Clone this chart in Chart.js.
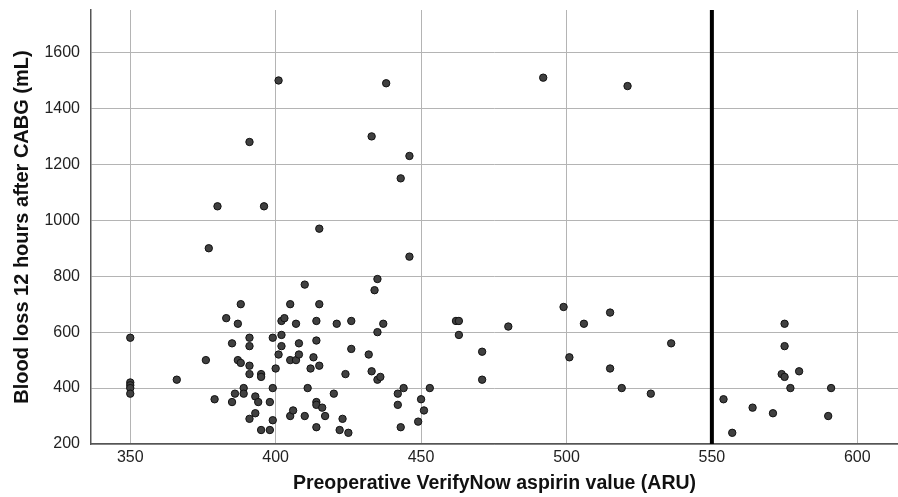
<!DOCTYPE html>
<html>
<head>
<meta charset="utf-8">
<script src="https://cdn.jsdelivr.net/npm/chart.js@4.4.0/dist/chart.umd.min.js"></script>
<style>
  html, body { margin: 0; padding: 0; background: #fff; }
  #wrap { width: 898px; height: 497px; }
</style>
</head>
<body>
<div id="wrap"><canvas id="myChart"></canvas></div>
<script>
// preoperative ARU (x) and 12h blood loss (y)
const aruValues = [
  350, 350, 350, 350, 350, 366, 376, 377, 379, 380,
  383, 385, 385, 386, 387, 387, 388, 388, 389, 389,
  391, 391, 391, 391, 391, 391, 393, 393, 394, 395,
  395, 395, 396, 398, 398, 399, 399, 399, 400, 401,
  401, 402, 402, 402, 403, 405, 405, 405, 406, 407,
  407, 408, 408, 410, 410, 411, 412, 413, 414, 414,
  414, 414, 414, 415, 415, 415, 416, 417, 420, 421,
  422, 423, 424, 425, 426, 426, 432, 433, 433, 434,
  435, 435, 435, 436, 437, 438, 442, 442, 443, 443,
  444, 446, 446, 449, 450, 451, 453, 462, 463, 463,
  471, 471, 480, 492, 499, 501, 506, 515, 515, 519,
  521, 529, 536, 554, 557, 564, 571, 575, 575, 574,
  575, 577, 580, 591, 590
];
const bloodLoss = [
  580, 420, 410, 400, 380, 430, 500, 900, 360, 1050,
  650, 560, 350, 380, 630, 500, 700, 490, 400, 380,
  1280, 580, 550, 480, 450, 290, 370, 310, 350, 450,
  440, 250, 1050, 350, 250, 580, 400, 285, 470, 1500,
  520, 640, 590, 550, 650, 700, 500, 300, 320, 630,
  500, 560, 520, 770, 300, 400, 470, 510, 640, 570,
  350, 340, 260, 970, 700, 480, 330, 300, 380, 630,
  250, 290, 450, 240, 640, 540, 520, 1300, 460, 750,
  790, 600, 430, 440, 630, 1490, 380, 340, 1150, 260,
  400, 1230, 870, 280, 360, 320, 400, 640, 640, 590,
  530, 430, 620, 1510, 690, 510, 630, 670, 470, 400,
  1480, 380, 560, 360, 240, 330, 310, 630, 550, 450,
  440, 400, 460, 400, 300
];
const xTicks = [350, 400, 450, 500, 550, 600];
const yTicks = [200, 400, 600, 800, 1000, 1200, 1400, 1600];
const cutoffAru = 550;
const xMin = 336.5, xMax = 614;
const yMin = 200, yMax = 1752;

const points = aruValues.map((v, i) => ({ x: v, y: bloodLoss[i] }));

const font = "'Liberation Sans', Arial, sans-serif";

const config = {
  type: "scatter",
  data: {
    datasets: [
      {
        type: "line",
        data: [{ x: cutoffAru, y: yMin }, { x: cutoffAru, y: yMax }],
        borderColor: "#000",
        borderWidth: 4,
        pointRadius: 0,
        order: 2,
      },
      {
        data: points,
        backgroundColor: "#404040",
        borderColor: "#111",
        borderWidth: 1,
        pointRadius: 3.7,
        order: 1,
      },
    ],
  },
  options: {
    responsive: true,
    maintainAspectRatio: false,
    animation: false,
    layout: { autoPadding: false, padding: { left: 0, right: 0, top: 10, bottom: 0 } },
    plugins: { legend: { display: false }, tooltip: { enabled: false } },
    scales: {
      x: {
        type: "linear",
        min: xMin,
        max: xMax,
        afterBuildTicks: (s) => { s.ticks = xTicks.map(v => ({ value: v })); },
        afterFit: (s) => {
          s.height = 53;
          s.paddingLeft = 0;
          s.paddingRight = 0;
        },
        grid: { color: "#b4b4b4", lineWidth: 1, drawTicks: false },
        border: { color: "#555", width: 1.5 },
        ticks: {
          color: "#222",
          font: { family: font, size: 16 },
          padding: 4,
          callback: (v) => String(v),
        },
        title: {
          display: true,
          text: "Preoperative VerifyNow aspirin value (ARU)",
          color: "#111",
          font: { family: font, size: 19.5, weight: "bold" },
          padding: { top: 2, bottom: 2 },
        },
      },
      y: {
        type: "linear",
        min: yMin,
        max: yMax,
        afterBuildTicks: (s) => { s.ticks = yTicks.map(v => ({ value: v })); },
        afterFit: (s) => {
          s.width = 91;
          s.paddingTop = 0;
          s.paddingBottom = 0;
        },
        grid: { color: "#b4b4b4", lineWidth: 1, drawTicks: false },
        border: { color: "#555", width: 1.5 },
        ticks: {
          color: "#222",
          font: { family: font, size: 16 },
          padding: 11,
          callback: (v) => String(v),
        },
        title: {
          display: true,
          text: "Blood loss 12 hours after CABG (mL)",
          color: "#111",
          font: { family: font, size: 20, weight: "bold" },
          padding: { top: 10, bottom: 2 },
        },
      },
    },
  },
};

var myChart = new Chart(document.getElementById("myChart"), config);
</script>
</body>
</html>
